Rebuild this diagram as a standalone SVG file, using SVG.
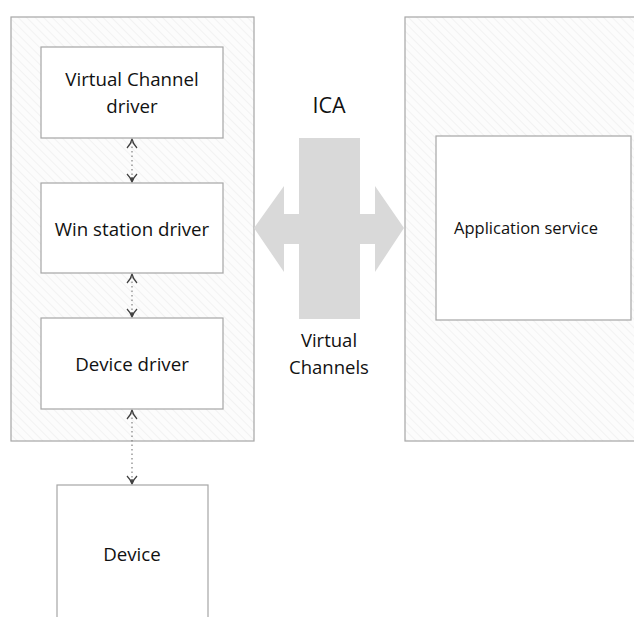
<svg xmlns="http://www.w3.org/2000/svg" width="634" height="617" viewBox="0 0 634 617">
<style>
.cont{fill:url(#hatch);stroke:#a6a6a6;stroke-width:1.2}
.box{fill:#ffffff;stroke:#a6a6a6;stroke-width:1.2}
.t{font-family:"Open Sans","Noto Sans","Liberation Sans",sans-serif;fill:#111111;text-anchor:middle}
.n{font-size:18.7px}
.conn{stroke:#808080;stroke-width:1.2;stroke-dasharray:1.5 3;fill:none}
.head{stroke:#404040;stroke-width:1.3;fill:none}
</style>
<defs>
<pattern id="hatch" patternUnits="userSpaceOnUse" width="6" height="6" patternTransform="rotate(-45)">
<rect width="6" height="6" fill="#fcfcfc"/>
<line x1="0" y1="0" x2="0" y2="6" stroke="#efefef" stroke-width="1.5"/>
</pattern>
</defs>
<rect width="634" height="617" fill="#ffffff"/>
<g id="client">
<rect class="cont" x="11" y="17" width="243" height="424"/>
</g>
<g id="server">
<rect class="cont" x="405" y="17" width="240" height="424"/>
</g>
<g id="ica-arrow">
<polygon fill="#d9d9d9" points="299,138 360,138 360,214 375,214 375,186 404,228 375,272 375,244 360,244 360,319 299,319 299,244 284,244 284,272 254,228 284,186 284,214 299,214"/>
<text class="t" x="329" y="113" font-size="21.5">ICA</text>
<text class="t" x="329" y="347" font-size="18.5">Virtual</text>
<text class="t" x="329" y="374" font-size="18.5">Channels</text>
</g>
<g id="vc-driver">
<rect class="box" x="41" y="47" width="182" height="91"/>
<text class="t n" x="132" y="86">Virtual Channel</text>
<text class="t n" x="132" y="113">driver</text>
</g>
<g id="ws-driver">
<rect class="box" x="41" y="183" width="182" height="90"/>
<text class="t n" x="132" y="236">Win station driver</text>
</g>
<g id="dev-driver">
<rect class="box" x="41" y="318" width="182" height="91"/>
<text class="t n" x="132" y="371">Device driver</text>
</g>
<g id="app-service">
<rect class="box" x="436" y="136" width="195" height="184"/>
<text class="t" x="526" y="234" font-size="16.5">Application service</text>
</g>
<g id="device">
<rect class="box" x="57" y="485" width="151" height="140"/>
<text class="t n" x="132" y="561">Device</text>
</g>
<g id="connectors">
<line class="conn" x1="132" y1="142" x2="132" y2="180"/>
<path class="head" d="M127,148 Q131,144 132,139 Q133,144 137,148"/>
<path class="head" d="M127,174 Q131,178 132,182 Q133,178 137,174 M132,182 V177"/>
<line class="conn" x1="132" y1="277" x2="132" y2="315"/>
<path class="head" d="M127,283 Q131,279 132,274 Q133,279 137,283"/>
<path class="head" d="M127,309 Q131,313 132,317 Q133,313 137,309 M132,317 V312"/>
<line class="conn" x1="132" y1="413" x2="132" y2="482"/>
<path class="head" d="M127,419 Q131,415 132,410 Q133,415 137,419"/>
<path class="head" d="M127,476 Q131,480 132,484 Q133,480 137,476 M132,484 V479"/>
</g>
</svg>
